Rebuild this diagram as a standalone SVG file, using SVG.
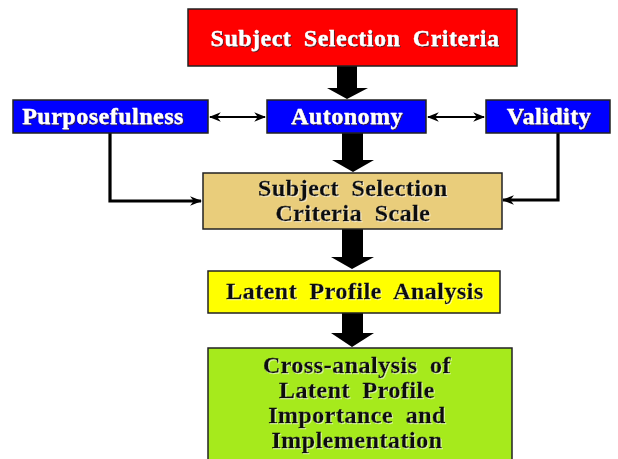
<svg xmlns="http://www.w3.org/2000/svg" width="618" height="459" viewBox="0 0 618 459">
  <defs>
    <marker id="tip" viewBox="0 0 10 10" refX="9" refY="5" markerWidth="6" markerHeight="6" orient="auto-start-reverse" markerUnits="strokeWidth">
      <path d="M0,1 L10,5 L0,9 L3,5 Z" fill="#000"/>
    </marker>
    <marker id="tipThick" viewBox="0 0 10 10" refX="9" refY="5" markerWidth="3.8" markerHeight="3.8" orient="auto" markerUnits="strokeWidth">
      <path d="M0,1 L10,5 L0,9 L3,5 Z" fill="#000"/>
    </marker>
    <filter id="shade" x="-10%" y="-30%" width="120%" height="160%">
      <feDropShadow dx="1" dy="1" stdDeviation="0.6" flood-color="#402030" flood-opacity="0.9"/>
    </filter>
    <filter id="glow" x="-10%" y="-30%" width="120%" height="160%">
      <feDropShadow dx="1" dy="1" stdDeviation="0.6" flood-color="#ffffff" flood-opacity="0.6"/>
    </filter>
    <style>
      .box { stroke: #222; stroke-width: 1.5; }
      .lbl { font-family: "Liberation Serif", "Times New Roman", serif; font-weight: bold; font-size: 24px; letter-spacing: 0.5px; word-spacing: 6px; text-anchor: middle; stroke-width: 0.3px; }
      .light { fill: #fff; stroke: #fff; filter: url(#shade); }
      .dark { fill: #111; stroke: #111; filter: url(#glow); }
      .block { fill: #000; }
      .thin { stroke: #000; stroke-width: 2; fill: none; }
      .elbow { stroke: #000; stroke-width: 3.2; fill: none; }
    </style>
  </defs>
  <rect width="618" height="459" fill="#fff"/>

  <!-- connectors -->
  <g id="connectors">
    <polygon class="block" points="337,66 357,66 357,88 368,88 347,99 327,88 337,88"/>
    <polygon class="block" points="342,133 363,133 363,160 374,160 353,172 332,160 342,160"/>
    <polygon class="block" points="342,229 363,229 363,257 374,257 352,269 331,257 342,257"/>
    <polygon class="block" points="342,313 363,313 363,333 374,333 352,347 331,333 342,333"/>
    <line class="thin" x1="210" y1="117" x2="265" y2="117" marker-start="url(#tip)" marker-end="url(#tip)"/>
    <line class="thin" x1="428" y1="117" x2="484" y2="117" marker-start="url(#tip)" marker-end="url(#tip)"/>
    <polyline class="elbow" points="110,133 110,201 201,201" marker-end="url(#tipThick)"/>
    <polyline class="elbow" points="558,133 558,200 503,200" marker-end="url(#tipThick)"/>
  </g>

  <g id="criteria">
    <rect class="box" x="188" y="9" width="329" height="57" fill="#ff0000"/>
    <text class="lbl light" x="355" y="46">Subject Selection Criteria</text>
  </g>

  <g id="purposefulness">
    <rect class="box" x="13" y="100" width="195" height="33" fill="#0000ff"/>
    <text class="lbl light" x="103" y="124">Purposefulness</text>
  </g>

  <g id="autonomy">
    <rect class="box" x="267" y="100" width="159" height="33" fill="#0000ff"/>
    <text class="lbl light" x="347" y="124">Autonomy</text>
  </g>

  <g id="validity">
    <rect class="box" x="486" y="100" width="124" height="33" fill="#0000ff"/>
    <text class="lbl light" x="549" y="124">Validity</text>
  </g>

  <g id="scale">
    <rect class="box" x="203" y="173" width="299" height="56" fill="#e9cd7b"/>
    <text class="lbl dark" x="353" y="196">Subject Selection</text>
    <text class="lbl dark" x="353" y="221">Criteria Scale</text>
  </g>

  <g id="lpa">
    <rect class="box" x="208" y="271" width="292" height="42" fill="#ffff00"/>
    <text class="lbl dark" x="355" y="299">Latent Profile Analysis</text>
  </g>

  <g id="cross">
    <rect class="box" x="208" y="348" width="304" height="120" fill="#a6ea1c"/>
    <text class="lbl dark" x="357" y="373">Cross-analysis of</text>
    <text class="lbl dark" x="357" y="398">Latent Profile</text>
    <text class="lbl dark" x="357" y="423">Importance and</text>
    <text class="lbl dark" x="357" y="448">Implementation</text>
  </g>
</svg>
